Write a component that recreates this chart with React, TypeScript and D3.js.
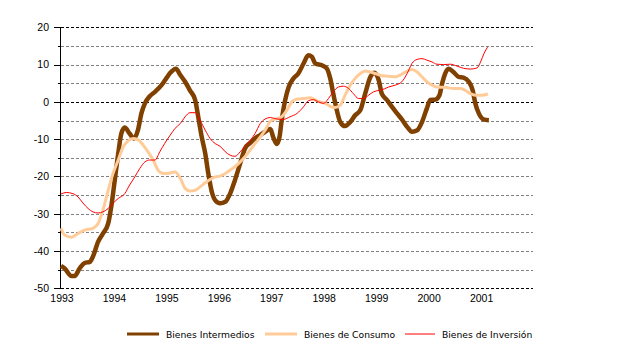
import React from "react";
import * as d3 from "d3";

// months since Jan 1993, values
const intermediosMonths = [0,0.85,2.4,3.1,4.3,5.4,6.6,7.3,8.5,9.6,10.8,11.5,12.3,13.1,13.8,14.6,15.7,16.7,17.6,18.4,19.2,20.3,21.5,23,23.8,25,26.3,27.3,28.4,29.5,30.7,31.4,32.2,33,33.7,34.5,35.3,36.4,37.6,38.7,39.8,41,42.1,43.3,44.4,45.6,46.7,47.9,48.6,49.4,50,50.5,51.3,52.1,53.2,54.3,55.5,56.6,57.4,58.2,59.7,60.8,61.6,62.3,63.1,63.9,65,66.2,67.3,68.5,69.6,70.8,71.7,72.7,73.4,74.6,75.7,76.9,78,79.2,80.3,81.5,82.6,83.7,84.5,85.6,86.6,87.2,87.9,88.7,89.8,91,92.1,93.3,94.2,94.8,95.6,96.7,97.9];
const intermediosValues = [-44,-44.7,-46.7,-46.7,-44.6,-43.2,-42.9,-41.5,-37.5,-35.3,-32.6,-28.1,-21,-13.8,-8.5,-6.9,-8.5,-9.8,-7.6,-3.1,-0.4,1.5,2.7,4.5,5.8,7.8,8.9,7.2,5.4,3.1,0.5,-4,-9.4,-13.8,-19.2,-24.1,-26.4,-27.2,-26.8,-24.6,-21,-16.5,-12.5,-11,-9.8,-8.9,-8,-7.3,-9.6,-11.3,-9.4,-4.9,0.5,4,6.3,7.6,10.3,12.5,12.1,10.3,9.8,9,6.3,2.2,-2.2,-5.4,-6.5,-5.4,-3.6,-2.2,2.2,6.7,7.8,5.8,2.2,0.5,-1.3,-3.1,-4.7,-6.7,-8,-7.6,-5.4,-1.8,0.5,0.6,1.8,4.9,7.6,8.9,8,6.7,6.5,5.4,3.1,-0.4,-3.1,-4.7,-4.9];

const consumoMonths = [0,0.8,2.4,3.9,5.4,7.3,8.5,9.6,10.8,11.9,13.1,14.2,15.3,16.5,17.6,18.8,19.9,21.1,22.2,23.4,24.3,26.1,27.3,28.4,29.5,30.7,31.8,33,34.1,35.3,36.4,37.6,38.7,39.8,41,42.1,43.3,44.4,45.6,46.7,47.9,48.8,49.4,50.5,51.7,52.8,53.9,55.5,57,58.2,59.3,60.5,61.6,62.7,63.9,65,66.2,67.3,68.5,69.6,70.8,71.9,73.4,75,76.5,77.6,78.8,80.3,81.5,82.6,83.7,84.9,86,87.9,89.8,91.4,92.5,93.7,94.8,96.3,97.7];
const consumoValues = [-33.9,-35.7,-36.3,-35.3,-34.4,-33.9,-32.6,-29,-23.7,-19.2,-15.6,-12.1,-10.5,-9.8,-10.1,-11.6,-13.4,-15.6,-18.3,-19.2,-19.2,-18.8,-20.5,-23.2,-23.9,-23.7,-22.8,-21.7,-20.8,-20.1,-19.9,-19.2,-18.3,-17.4,-16.1,-14.7,-12.9,-11.2,-9.4,-7.6,-5.2,-4.7,-4.5,-4,-2.2,0,0.7,0.9,1.1,0.5,0,-0.4,-1.2,-1.5,-0.9,1.8,4.5,6.3,7.6,8.3,8,7.6,7,6.9,6.7,7.2,8,8.7,8,6.7,5.4,4.5,4,3.9,3.6,3.6,3.1,2.2,1.8,1.8,2.1];

const inversionMonths = [0,1.2,2.7,3.9,5,6.2,7.3,8.5,9.6,10.8,11.9,13.1,14.6,15.7,16.9,18,19.2,20.3,21.5,22.6,23.7,25,26.1,27.3,28.4,29.5,30.7,31.8,33,34.1,35.3,36.4,37.6,38.7,39.8,41,42.1,43.3,44.4,45.6,46.7,47.9,49.4,50.9,52.4,54,55.5,56.6,57.8,58.9,60.1,61.2,62.3,63.5,64.6,65.8,66.9,68.1,69.2,70.4,71.5,72.9,74,75,76.5,78,79.2,80.3,81.5,82.6,83.7,84.9,86,87.5,89.1,90.6,92.1,93.7,95.2,96,96.8,97.6];
const inversionValues = [-24.7,-24.3,-24.6,-25.5,-27.1,-28.6,-29.5,-29.8,-29.5,-28.6,-27.2,-25.9,-24.6,-22.3,-20.1,-17.9,-16.1,-15.6,-15.6,-13.4,-11.2,-8.9,-7.1,-5.8,-4,-2.9,-2.9,-4.9,-7.6,-9.8,-11.2,-11.9,-13.4,-14.3,-14.6,-13.4,-11.9,-10.3,-8.5,-5.8,-4.6,-4.2,-4.6,-4.7,-4,-3.1,-1.3,0.3,0.6,0,-0.4,0.9,2.7,4,4.2,3.6,2.2,0.9,0.9,1.8,2.7,3.1,3.5,4,4.5,5.4,7.6,10.3,11.4,11.6,11.2,10.7,10.1,10,10.1,9.6,9,8.8,9.1,10.7,13,14.7];

const yearLabels = ["1993","1994","1995","1996","1997","1998","1999","2000","2001"];
const yTicks = [20,10,0,-10,-20,-30,-40,-50];
const gridValues = [20,15,10,5,0,-5,-10,-15,-20,-25,-30,-35,-40,-45,-50];
const seriesNames = ["Bienes Intermedios","Bienes de Consumo","Bienes de Inversión"];

export default function App() {
  const width = 640, height = 359;
  const x = d3.scaleLinear().domain([0, 108]).range([61, 533]);
  const y = d3.scaleLinear().domain([-50, 20]).range([288.3, 27.3]);

  const series = [
    { name: seriesNames[0], m: intermediosMonths, v: intermediosValues, color: "#804000", w: 4.5 },
    { name: seriesNames[1], m: consumoMonths, v: consumoValues, color: "#FFCC99", w: 3 },
    { name: seriesNames[2], m: inversionMonths, v: inversionValues, color: "#FF0000", w: 1 },
  ];
  const line = d3.line<[number, number]>()
    .x(d => x(d[0]))
    .y(d => y(d[1]))
    .curve(d3.curveMonotoneX);

  const legendX = [127, 265, 405];
  const legendLen = [32, 32, 30];

  return (
    <svg width={width} height={height} style={{ position: "absolute", left: 0, top: 0, background: "#fff" }}>
      {gridValues.map(g => (
        <line key={g} x1={61} x2={533} y1={Math.round(y(g)) + 0.5} y2={Math.round(y(g)) + 0.5}
          stroke={g === 20 || g === 0 || g === -50 ? "#000" : "#808080"}
          strokeWidth={1} strokeDasharray="3,2" />
      ))}
      {/* y axis */}
      <line x1={60.5} x2={60.5} y1={Math.round(y(20))} y2={Math.round(y(-50)) + 1} stroke="#000" strokeWidth={1} />
      {gridValues.map(g => (
        <line key={"t" + g} x1={g % 10 === 0 ? 54 : 58} x2={61}
          y1={Math.round(y(g)) + 0.5} y2={Math.round(y(g)) + 0.5} stroke="#000" strokeWidth={1} />
      ))}
      {yTicks.map(t => (
        <text key={"yl" + t} x={49} y={y(t)} dy="0.36em" textAnchor="end"
          fontFamily="'Liberation Sans', Arial, sans-serif" fontSize={10.5} fill="#000">{t}</text>
      ))}
      {yearLabels.map((lab, i) => (
        <text key={lab} x={x(i * 12) + 1} y={302} textAnchor="middle"
          fontFamily="'Liberation Sans', Arial, sans-serif" fontSize={10.5} fill="#000">{lab}</text>
      ))}
      {series.map(s => (
        <path key={s.name}
          d={line(s.m.map((mm, i) => [mm, s.v[i]] as [number, number])) || ""}
          fill="none" stroke={s.color} strokeWidth={s.w} strokeLinejoin="round" strokeLinecap="butt" />
      ))}
      {series.map((s, i) => (
        <g key={"lg" + i}>
          <line x1={legendX[i]} x2={legendX[i] + legendLen[i]} y1={334} y2={334}
            stroke={s.color} strokeWidth={s.w === 1 ? 1 : 3} />
          <text x={legendX[i] + legendLen[i] + 7} y={337.5}
            fontFamily="'DejaVu Sans', Verdana, sans-serif" fontSize={9.2} fill="#000">{s.name}</text>
        </g>
      ))}
    </svg>
  );
}
